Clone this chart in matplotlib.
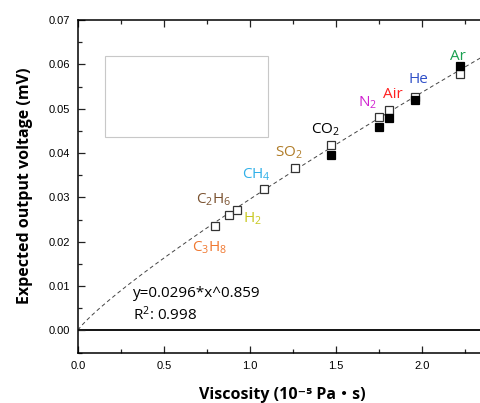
import numpy as np
import matplotlib
matplotlib.use("Agg")
import matplotlib.pyplot as plt
from matplotlib.patches import Rectangle
from matplotlib.ticker import MultipleLocator

plt.rcParams["mathtext.fontset"] = "custom"
plt.rcParams["mathtext.rm"] = "Open Sans"
plt.rcParams["mathtext.it"] = "Open Sans:italic"
plt.rcParams["mathtext.bf"] = "Open Sans:bold"

# ---- data ----
gases = ["C3H8", "C2H6", "H2", "CH4", "SO2", "CO2", "N2", "Air", "He", "Ar"]
viscosity_open = [0.797, 0.88, 0.922, 1.083, 1.262, 1.469, 1.75, 1.81, 1.959, 2.221]
voltage_open = [0.0236, 0.0261, 0.0271, 0.0318, 0.0366, 0.0418, 0.0482, 0.0496, 0.0526, 0.0578]

filled_gases = ["CO2", "N2", "Air", "He", "Ar"]
viscosity_filled = [1.469, 1.75, 1.81, 1.959, 2.221]
voltage_filled = [0.0395, 0.0459, 0.0480, 0.0520, 0.0596]

fit_a = 0.0296
fit_b = 0.859

label_texts = ["C$_3$H$_8$", "C$_2$H$_6$", "H$_2$", "CH$_4$", "SO$_2$", "CO$_2$",
               "N$_2$", "Air", "He", "Ar"]
label_x = [0.763, 0.787, 1.016, 1.039, 1.229, 1.440, 1.685, 1.833, 1.982, 2.211]
label_y = [0.0186, 0.0295, 0.0251, 0.0351, 0.0400, 0.0453, 0.0514, 0.0531, 0.0566, 0.0618]
label_colors = ["#f07830", "#7a5230", "#c8c820", "#30b0e8", "#b07c28", "#000000",
                "#d020d0", "#ff2020", "#3050c8", "#1aa050"]

x_ticks = [0.0, 0.5, 1.0, 1.5, 2.0]
y_ticks = [0.00, 0.01, 0.02, 0.03, 0.04, 0.05, 0.06, 0.07]

# ---- figure ----
W, H = 481, 403
fig = plt.figure(figsize=(W / 100, H / 100), dpi=100)
x0, x1 = 0.0, 2.4
px_per_unit = 172.0
left_px, bottom_px, top_px = 78, 352.5, 20
ax = fig.add_axes([left_px / W, (H - bottom_px) / H,
                   (x1 - x0) * px_per_unit / W, (bottom_px - top_px) / H])
ax.set_xlim(x0, x1)
ax.set_ylim(-0.005, 0.07)

lab_font = "Open Sans"
tick_font = "Liberation Sans"

# fit curve
xf = np.linspace(0.0, x1, 300)
ax.plot(xf, fit_a * xf ** fit_b, ls=(0, (4, 3)), color="#444444", lw=0.7, zorder=2)

# zero line
ax.axhline(0.0, color="black", lw=1.3, zorder=1)

ax.plot(viscosity_open, voltage_open, ls="none", marker="s", ms=6.3,
        mfc="white", mec="#333333", mew=0.9, zorder=3)
ax.plot(viscosity_filled, voltage_filled, ls="none", marker="s", ms=6.3,
        mfc="black", mec="black", mew=0.9, zorder=4)

for t, lx, ly, c in zip(label_texts, label_x, label_y, label_colors):
    ax.text(lx, ly, t, color=c, fontsize=11, family=lab_font,
            ha="center", va="center", zorder=5)

ax.text(0.318, 0.0082, "y=0.0296*x^0.859", fontsize=11, family=lab_font,
        ha="left", va="center")
ax.text(0.318, 0.0036, "R$^2$: 0.998", fontsize=11, family=lab_font,
        ha="left", va="center")

# empty legend box
ax.add_patch(Rectangle((0.157, 0.0436), 0.948, 0.0182, fill=False,
                       ec="#c8c8c8", lw=0.8, zorder=1))

# ticks
ax.set_xticks(x_ticks)
ax.set_yticks(y_ticks)
ax.xaxis.set_minor_locator(MultipleLocator(0.25))
ax.yaxis.set_minor_locator(MultipleLocator(0.005))
ax.set_xticklabels([f"{v:.1f}" for v in x_ticks], family=tick_font, fontsize=8)
ax.set_yticklabels([f"{v:.2f}" for v in y_ticks], family=tick_font, fontsize=8)
ax.tick_params(which="both", direction="in", top=True, right=False, color="#222222")
ax.tick_params(which="major", length=5, width=0.9, pad=6)
ax.tick_params(which="minor", length=3, width=0.9)
for s in ["left", "bottom", "top"]:
    ax.spines[s].set_linewidth(1.1)
ax.spines["right"].set_visible(False)

fig.text(282 / W, 1 - 395 / H, "Viscosity (10\u207b\u2075 Pa\u30fbs)", fontsize=11.5,
         fontweight="bold", family=[lab_font, "DejaVu Sans", "Noto Sans CJK JP"],
         ha="center", va="center")
ax.set_ylabel("Expected output voltage (mV)", fontsize=11.5, fontweight="bold",
              family=lab_font, labelpad=11)

fig.savefig("out.png", dpi=100)
